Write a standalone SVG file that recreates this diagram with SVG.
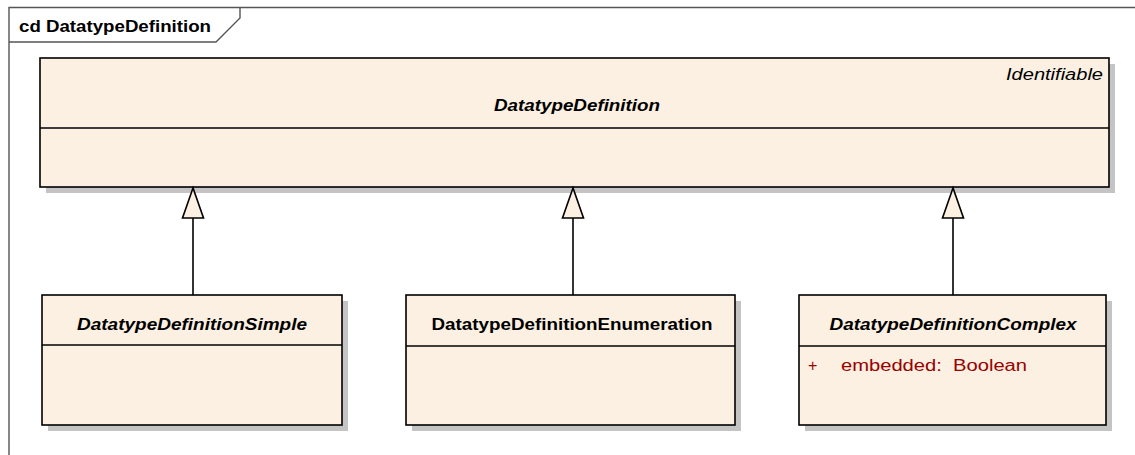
<svg xmlns="http://www.w3.org/2000/svg" width="1135" height="455" viewBox="0 0 1135 455">
<style>
.box{fill:#FBF0E2;stroke:#000;stroke-width:1.6}
.shadow{fill:#C4C4C4}
.div{stroke:#000;stroke-width:1.6}
.bt{font-family:"Liberation Sans",Arial,sans-serif;font-weight:bold;font-size:16px;fill:#000}
.it{font-style:italic}
.rt{font-family:"Liberation Sans",Arial,sans-serif;font-size:16px;fill:#000}
.attr{font-family:"Liberation Sans",Arial,sans-serif;font-size:16px;fill:#990000}
.conn{stroke:#000;stroke-width:1.6;fill:none}
.head{fill:#FBF0E2;stroke:#000;stroke-width:1.6}
</style>
<rect width="1135" height="455" fill="#fff"/>
<g id="frame">
<path d="M9,455 V7.5 H1135" fill="none" stroke="#555" stroke-width="1.4"/>
<path d="M9,42 H216 L240,18 V7.5" fill="none" stroke="#555" stroke-width="1.4"/>
<text class="bt" x="19" y="32" textLength="192" lengthAdjust="spacingAndGlyphs">cd DatatypeDefinition</text>
</g>
<g id="DatatypeDefinition">
<rect class="shadow" x="46" y="64" width="1069" height="129"/>
<rect class="box" x="40" y="58" width="1069" height="129"/>
<line class="div" x1="40" y1="128" x2="1109" y2="128"/>
<text class="rt it" x="1103" y="80" text-anchor="end" textLength="97" lengthAdjust="spacingAndGlyphs">Identifiable</text>
<text class="bt it" x="577" y="111" text-anchor="middle" textLength="166" lengthAdjust="spacingAndGlyphs">DatatypeDefinition</text>
</g>
<g id="DatatypeDefinitionSimple">
<rect class="shadow" x="48" y="301" width="300" height="130"/>
<rect class="box" x="42" y="295" width="300" height="130"/>
<line class="div" x1="42" y1="345" x2="342" y2="345"/>
<text class="bt it" x="192" y="330" text-anchor="middle" textLength="230" lengthAdjust="spacingAndGlyphs">DatatypeDefinitionSimple</text>
</g>
<g id="DatatypeDefinitionEnumeration">
<rect class="shadow" x="412" y="301" width="329" height="130"/>
<rect class="box" x="406" y="295" width="329" height="130"/>
<line class="div" x1="406" y1="346" x2="735" y2="346"/>
<text class="bt" x="572" y="330" text-anchor="middle" textLength="281" lengthAdjust="spacingAndGlyphs">DatatypeDefinitionEnumeration</text>
</g>
<g id="DatatypeDefinitionComplex">
<rect class="shadow" x="805" y="301" width="307" height="130"/>
<rect class="box" x="799" y="295" width="307" height="130"/>
<line class="div" x1="799" y1="346" x2="1106" y2="346"/>
<text class="bt it" x="953" y="330" text-anchor="middle" textLength="247" lengthAdjust="spacingAndGlyphs">DatatypeDefinitionComplex</text>
<text class="attr" x="808" y="371">+</text>
<text class="attr" x="841" y="371" textLength="186" lengthAdjust="spacingAndGlyphs">embedded:&#160; Boolean</text>
</g>
<g id="connectors">
<line class="conn" x1="193" y1="218" x2="193" y2="295"/>
<polygon class="head" points="193,188 182.5,218 203.5,218"/>
<line class="conn" x1="573" y1="218" x2="573" y2="295"/>
<polygon class="head" points="573,188 562.5,218 583.5,218"/>
<line class="conn" x1="953" y1="218" x2="953" y2="295"/>
<polygon class="head" points="953,188 942.5,218 963.5,218"/>
</g>
</svg>
